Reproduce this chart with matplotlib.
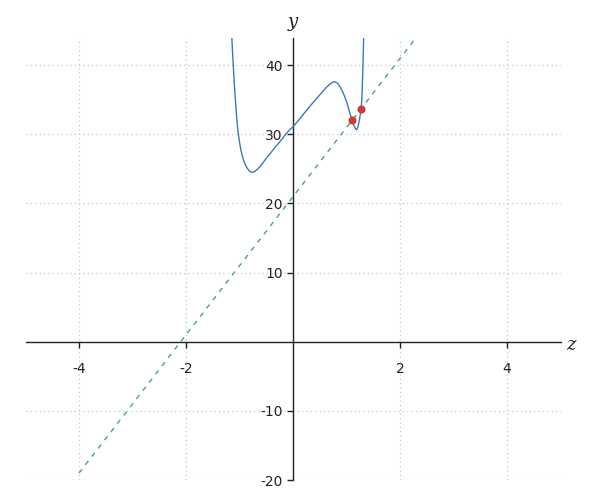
import numpy as np
import matplotlib.pyplot as plt

plt.rcParams['axes.unicode_minus'] = False

# curve y(z)
z_curve = [-1.16, -1.145, -1.12, -1.10, -1.076, -1.05, -1.033, -1.00, -0.977, -0.95,
           -0.92, -0.88, -0.84, -0.80, -0.763, -0.72, -0.68, -0.62, -0.56, -0.515,
           -0.45, -0.38, -0.327, -0.25, -0.14, -0.07, 0.0, 0.10, 0.234, 0.33,
           0.42, 0.52, 0.61, 0.68, 0.73, 0.78, 0.83, 0.889, 0.94, 0.982,
           1.02, 1.044, 1.075, 1.107, 1.14, 1.165, 1.188, 1.21, 1.23, 1.25,
           1.265, 1.28, 1.29, 1.30, 1.31, 1.32, 1.33]
y_curve = [46.8, 44.0, 40.2, 37.5, 34.7, 32.0, 30.6, 28.8, 27.8, 26.9,
           26.1, 25.4, 24.9, 24.6, 24.5, 24.6, 24.85, 25.3, 25.9, 26.4,
           27.0, 27.7, 28.2, 28.9, 30.0, 30.6, 31.1, 32.0, 33.3, 34.2,
           35.0, 35.9, 36.7, 37.2, 37.5, 37.6, 37.4, 36.7, 35.9, 35.1,
           34.2, 33.5, 32.7, 32.0, 31.2, 30.8, 30.65, 31.0, 31.7, 32.6,
           33.3, 34.6, 36.3, 38.6, 41.3, 44.4, 48.0]

# dashed secant line endpoints
z_line = [-4.0, 2.4]
y_line = [-19.0, 45.0]

# red points
z_pts = [1.10, 1.27]
y_pts = [32.05, 33.65]

fig = plt.figure(figsize=(6, 5), dpi=100)
ax = fig.add_axes([0.0425, 0.04, 0.892, 0.885])

ax.plot(z_curve, y_curve, color='#3a78bf', linewidth=1.0, zorder=3)
ax.plot(z_line, y_line, color='#4aa764', linewidth=1.0, linestyle=(0, (3.5, 4)), zorder=2)
ax.scatter(z_pts, y_pts, color='#cc3c3c', s=34, zorder=4, linewidths=0)

ax.set_xlim(-5, 5)
ax.set_ylim(-20, 44)
ax.set_xticks([-4, -2, 2, 4])
ax.set_yticks([-20, -10, 10, 20, 30, 40])

ax.spines['left'].set_position(('data', 0))
ax.spines['bottom'].set_position(('data', 0))
ax.spines['right'].set_visible(False)
ax.spines['top'].set_visible(False)
for s in ('left', 'bottom'):
    ax.spines[s].set_color('#222222')
    ax.spines[s].set_linewidth(1.0)

ax.tick_params(direction='out', length=4, width=1, colors='#222222', labelsize=10)
ax.tick_params(axis='x', pad=10.5)
ax.grid(True, color='#c8c8c8', linestyle=(0, (1, 2.5)), linewidth=0.9)
ax.set_axisbelow(True)

ax.text(5.2, -0.5, 'z', fontsize=13, family='DejaVu Serif', style='italic',
        ha='center', va='center', color='#222222')
ax.text(0, 46.2, 'y', fontsize=13, family='DejaVu Serif', style='italic',
        ha='center', va='center', color='#222222', clip_on=False)

fig.savefig('out.png', dpi=100)
